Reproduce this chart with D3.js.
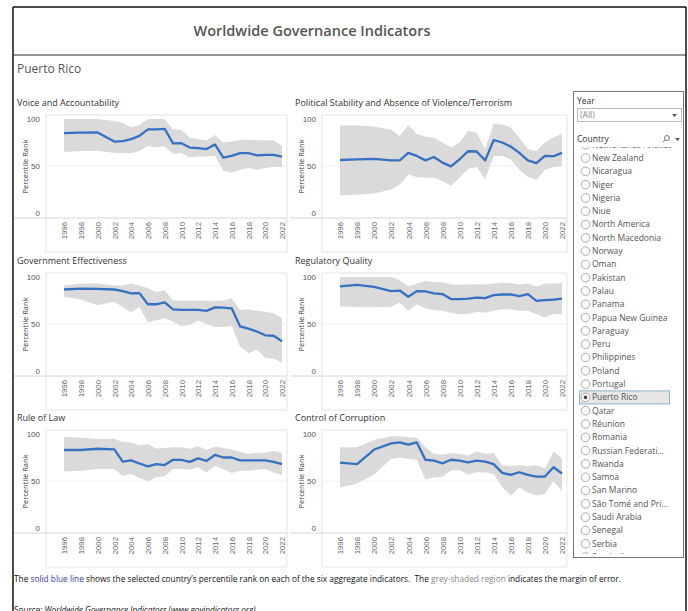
<!DOCTYPE html>
<html>
<head>
<meta charset="utf-8">
<script src="https://cdn.jsdelivr.net/npm/d3@7"></script>
<style>
  html, body { margin: 0; padding: 0; background: #fff; }
  svg { display: block; font-family: "Open Sans", "Noto Sans", sans-serif; }
</style>
</head>
<body>
<svg id="chart" width="688" height="611"></svg>
<script>
// ---- data ----
const country = 'Puerto Rico';
const years = [1996, 1998, 2000, 2002, 2003, 2004, 2005, 2006, 2007, 2008, 2009, 2010,
  2011, 2012, 2013, 2014, 2015, 2016, 2017, 2018, 2019, 2020, 2021, 2022];
const yearTicks = [1996, 1998, 2000, 2002, 2004, 2006, 2008, 2010, 2012, 2014, 2016, 2018, 2020, 2022];
const rankTicks = [0, 50, 100];
const indicators = ['Voice and Accountability', 'Political Stability and Absence of Violence/Terrorism',
  'Government Effectiveness', 'Regulatory Quality', 'Rule of Law', 'Control of Corruption'];

const vaRank = [85, 85.4, 85.7, 76, 76.4, 78.6, 82, 89, 89, 89.6, 74, 74.3, 69.6, 69, 68, 73, 59, 60.7, 63.6, 63.6, 61.4, 61.8, 61.8, 60];
const vaUpper = [100, 100, 100, 98, 96, 91, 93.5, 100, 100, 100, 89, 88.6, 80, 78.6, 77, 83, 75, 76, 78, 78, 77.5, 77.5, 77, 71.4];
const vaLower = [65, 66, 66, 64, 63.6, 63.6, 66, 71.4, 70, 71, 63, 63.6, 59, 60, 60, 61, 45, 43, 46, 48, 46, 48, 49, 49];

const psRank = [56.4, 57, 57.5, 56, 56, 64, 60.7, 56, 59.6, 53.6, 49.6, 57, 65.7, 65.4, 56, 77.5, 75, 70.7, 64, 56, 53, 60.7, 60.4, 64];
const psUpper = [93, 93, 92, 88.6, 82, 93.6, 84, 81, 80, 75, 70, 75, 87.5, 85.7, 68, 95, 94, 91, 80, 68, 66, 75, 80, 84.6];
const psLower = [18.6, 19.3, 20.7, 25, 30, 41, 38, 37.5, 37.5, 34, 29, 37.5, 47, 49, 36, 60.7, 60.7, 57, 46, 38.6, 35, 46, 49, 50];

const geRank = [86.7, 87.7, 87.4, 86.7, 85, 82.5, 82.8, 71, 71, 73, 65.6, 65, 65, 65, 64, 67.7, 67.4, 66.7, 47.4, 45, 42, 38, 37.5, 31.6];
const geUpper = [91, 93, 93, 91, 91, 93, 91, 88, 84, 86, 75, 75, 75, 75, 74.7, 74.7, 75, 77, 65, 65.6, 64, 63, 61.4, 56];
const geLower = [79, 76, 70, 73.7, 68, 62.5, 68, 51.6, 54, 56, 52.6, 48, 49, 53.7, 50, 46.7, 46.7, 48, 26, 19, 23, 14, 13, 9];

const rqRank = [90, 91.6, 89.5, 85, 85.6, 79, 85, 84.6, 82.5, 81.8, 76.5, 76.5, 77, 78, 77.5, 80.7, 81.4, 81.4, 79.6, 81.8, 74.7, 75.4, 76, 77];
const rqUpper = [100, 100, 100, 100, 96.5, 90, 93, 95.8, 94.7, 94.7, 92, 92, 92, 92.3, 92, 93, 94, 93.7, 92, 93, 89.5, 93, 93, 93.7];
const rqLower = [69, 67.7, 67.7, 68.4, 72.6, 64, 71, 66.7, 65, 64, 62, 60.4, 60.7, 63, 62, 64, 65.6, 65.6, 64, 64, 60.7, 57, 60.7, 60.4];

const rlRank = [83, 83, 84.3, 83.6, 70.7, 72, 68.6, 65.5, 68, 67, 72.5, 72.5, 70.4, 74, 71.4, 77.7, 75, 75, 72, 72, 72, 72, 70.4, 68];
const rlUpper = [97, 96, 95, 95, 91.6, 91, 88, 89, 84.7, 85, 86, 86, 84.3, 87, 83, 86.4, 85, 83.6, 81, 79, 80, 80, 82, 80];
const rlLower = [60, 61, 62.7, 62.7, 55.7, 57.5, 53.3, 49.8, 54, 55, 62.7, 62.7, 62, 64.5, 59, 66, 62.7, 58.5, 61, 61, 62, 62.7, 59, 56];

const ccRank = [69.6, 68, 83.5, 90, 91, 88.6, 91, 72.6, 71.6, 68.8, 72.6, 71.6, 69.8, 71.6, 70.5, 68, 58.6, 56.5, 59.3, 56.5, 54.7, 54.7, 64.6, 58];
const ccUpper = [86, 86, 93.7, 97.5, 97.5, 96.5, 96, 86, 79, 78, 79.7, 79, 77, 81.4, 79, 79.7, 66.7, 66, 66.7, 66, 66.7, 63, 81.4, 73.7];
const ccLower = [43, 47.4, 56.8, 73.7, 74.7, 73.7, 72.6, 51.6, 53.7, 54.4, 61.4, 61.4, 57, 59.3, 59.3, 57.5, 43.5, 34.7, 43, 37.5, 34.7, 36.5, 50, 39];

const countryList = ['Netherlands Antilles', 'New Zealand', 'Nicaragua', 'Niger', 'Nigeria', 'Niue',
  'North America', 'North Macedonia', 'Norway', 'Oman', 'Pakistan', 'Palau', 'Panama',
  'Papua New Guinea', 'Paraguay', 'Peru', 'Philippines', 'Poland', 'Portugal', 'Puerto Rico',
  'Qatar', 'Réunion', 'Romania', 'Russian Federati...', 'Rwanda', 'Samoa', 'San Marino',
  'São Tomé and Pri...', 'Saudi Arabia', 'Senegal', 'Serbia', 'Seychelles'];

const series = [
  { rank: vaRank, upper: vaUpper, lower: vaLower },
  { rank: psRank, upper: psUpper, lower: psLower },
  { rank: geRank, upper: geUpper, lower: geLower },
  { rank: rqRank, upper: rqUpper, lower: rqLower },
  { rank: rlRank, upper: rlUpper, lower: rlLower },
  { rank: ccRank, upper: ccUpper, lower: ccLower }
];

// ---- layout ----
const svg = d3.select('#chart');
const lineBlue = '#3571c0';
const bandGrey = '#dadada';
const paneGrey = '#e3e3e3';

// page frame
svg.append('line').attr('x1', 13).attr('x2', 13).attr('y1', 7).attr('y2', 611).attr('stroke', '#111').attr('stroke-width', 1.5);
svg.append('line').attr('x1', 686).attr('x2', 686).attr('y1', 7).attr('y2', 611).attr('stroke', '#111').attr('stroke-width', 1.5);
svg.append('line').attr('x1', 13).attr('x2', 686).attr('y1', 7).attr('y2', 7).attr('stroke', '#111').attr('stroke-width', 1.5);
svg.append('line').attr('x1', 13).attr('x2', 686).attr('y1', 55).attr('y2', 55).attr('stroke', '#333').attr('stroke-width', 1);

svg.append('text')
  .attr('x', 312).attr('y', 36)
  .attr('text-anchor', 'middle')
  .style('font-size', '14.5px').style('font-weight', 600).style('fill', '#555')
  .text('Worldwide Governance Indicators');

svg.append('text')
  .attr('x', 17).attr('y', 73)
  .style('font-size', '12px').style('fill', '#555')
  .text(country);

const cols = [{ title: 17, x0: 46, x1: 287, ytitle: 25 }, { title: 295, x0: 322, x1: 567, ytitle: 301 }];
const rowTops = [115, 273, 430];
const paneH = 103;

series.forEach((s, i) => {
  const col = cols[i % 2];
  const top = rowTops[Math.floor(i / 2)];
  const bottom = top + paneH;
  const g = svg.append('g').attr('class', 'panel');

  const x = d3.scaleLinear().domain([1996, 2022]).range([col.x0 + 18, col.x1 - 5]);
  const y = d3.scaleLinear().domain([0, 100]).range([bottom - 5, top + 4]);

  g.append('text')
    .attr('x', col.title).attr('y', top - 9)
    .style('font-size', '9px').style('fill', '#333')
    .text(indicators[i]);

  // pane borders
  g.append('rect')
    .attr('x', col.x0).attr('y', top).attr('width', col.x1 - col.x0).attr('height', bottom + 34 - top)
    .attr('fill', 'none').attr('stroke', paneGrey);
  g.append('line').attr('x1', col.x0 - 32).attr('x2', col.x1).attr('y1', bottom).attr('y2', bottom)
    .attr('stroke', '#d6d6d6');
  g.append('line').attr('x1', col.x0).attr('x2', col.x1).attr('y1', y(50)).attr('y2', y(50))
    .attr('stroke', '#f0f0f0');

  // margin of error band and rank line
  const pts = years.map((yr, k) => ({ yr, rank: s.rank[k], lo: s.lower[k], hi: s.upper[k] }));
  g.append('path').datum(pts)
    .attr('fill', bandGrey)
    .attr('d', d3.area().x(d => x(d.yr)).y0(d => y(d.lo)).y1(d => y(d.hi)));
  g.append('path').datum(pts)
    .attr('fill', 'none').attr('stroke', lineBlue).attr('stroke-width', 2.3).attr('stroke-linejoin', 'round')
    .attr('d', d3.line().x(d => x(d.yr)).y(d => y(d.rank)));

  // axes
  const yAxis = g.append('g').attr('transform', `translate(${col.x0},0)`)
    .call(d3.axisLeft(y).tickValues(rankTicks).tickSize(0).tickPadding(6));
  yAxis.select('.domain').remove();
  yAxis.selectAll('text').style('font-size', '8px').style('fill', '#555').style('font-family', 'inherit');

  const xAxis = g.append('g').attr('transform', `translate(0,${bottom})`)
    .call(d3.axisBottom(x).tickValues(yearTicks).tickFormat(d3.format('d')).tickSize(0));
  xAxis.select('.domain').remove();
  xAxis.selectAll('text')
    .attr('transform', 'rotate(-90)')
    .attr('x', -4).attr('y', 0).attr('dy', '0.35em')
    .style('text-anchor', 'end')
    .style('font-size', '7.8px').style('fill', '#666').style('font-family', 'inherit');

  g.append('text')
    .attr('transform', `translate(${col.ytitle},${(top + bottom) / 2}) rotate(-90)`)
    .attr('text-anchor', 'middle').attr('dy', '0.35em')
    .style('font-size', '7.5px').style('fill', '#333')
    .text('Percentile Rank');
});

// ---- filter sidebar ----
const side = svg.append('g').attr('class', 'sidebar');
side.append('rect').attr('x', 573.5).attr('y', 91.5).attr('width', 110).attr('height', 466)
  .attr('fill', '#fff').attr('stroke', '#777');
side.append('text').attr('x', 577).attr('y', 104).style('font-size', '8.5px').style('fill', '#333').text('Year');
side.append('rect').attr('x', 577.5).attr('y', 108.5).attr('width', 104).attr('height', 13)
  .attr('fill', '#fff').attr('stroke', '#bbb');
side.append('text').attr('x', 580).attr('y', 118).style('font-size', '8.5px').style('fill', '#888').text('(All)');
side.append('path').attr('d', 'M672,114 l5,0 l-2.5,3 z').attr('fill', '#555');
side.append('text').attr('x', 577).attr('y', 142).style('font-size', '8.5px').style('fill', '#333').text('Country');
side.append('circle').attr('cx', 667).attr('cy', 138).attr('r', 2.5).attr('fill', 'none').attr('stroke', '#777');
side.append('line').attr('x1', 665.2).attr('y1', 139.8).attr('x2', 663).attr('y2', 142).attr('stroke', '#777');
side.append('path').attr('d', 'M675,138 l5,0 l-2.5,3 z').attr('fill', '#555');

side.append('clipPath').attr('id', 'listClip')
  .append('rect').attr('x', 574).attr('y', 147).attr('width', 109).attr('height', 407);
const list = side.append('g').attr('clip-path', 'url(#listClip)');
const rowY = d3.scaleLinear().domain([0, 1]).range([144.7, 158]);
const items = list.selectAll('g.item').data(countryList).join('g')
  .attr('class', 'item')
  .attr('transform', (d, k) => `translate(0,${rowY(k)})`);
items.filter(d => d === country).append('rect')
  .attr('x', 579.5).attr('y', -6.5).attr('width', 90).attr('height', 13)
  .attr('fill', '#e6e6e6').attr('stroke', '#8fb3c9');
items.append('circle').attr('cx', 585.5).attr('cy', 0).attr('r', 4.3)
  .attr('fill', '#fff').attr('stroke', '#aaa');
items.filter(d => d === country).append('circle').attr('cx', 585.5).attr('cy', 0).attr('r', 1.8).attr('fill', '#444');
items.append('text').attr('x', 592).attr('dy', '0.35em')
  .style('font-size', '8.5px').style('fill', '#555')
  .text(d => d);

// ---- footnotes ----
const note = svg.append('text').attr('x', 14).attr('y', 582).style('font-size', '8.3px').style('fill', '#111');
note.append('tspan').text('The ');
note.append('tspan').style('fill', '#3b3bb0').text('solid blue line');
note.append('tspan').text(' shows the selected country\u2019s percentile rank on each of the six aggregate indicators.\u00a0 The ');
note.append('tspan').style('fill', '#888').text('grey-shaded region');
note.append('tspan').text(' indicates the margin of error.');

const src = svg.append('text').attr('x', 14).attr('y', 613).style('font-size', '8.2px').style('fill', '#111');
src.append('tspan').text('Source: ');
src.append('tspan').style('font-style', 'italic').text('Worldwide Governance Indicators (www.govindicators.org)');
</script>
</body>
</html>
